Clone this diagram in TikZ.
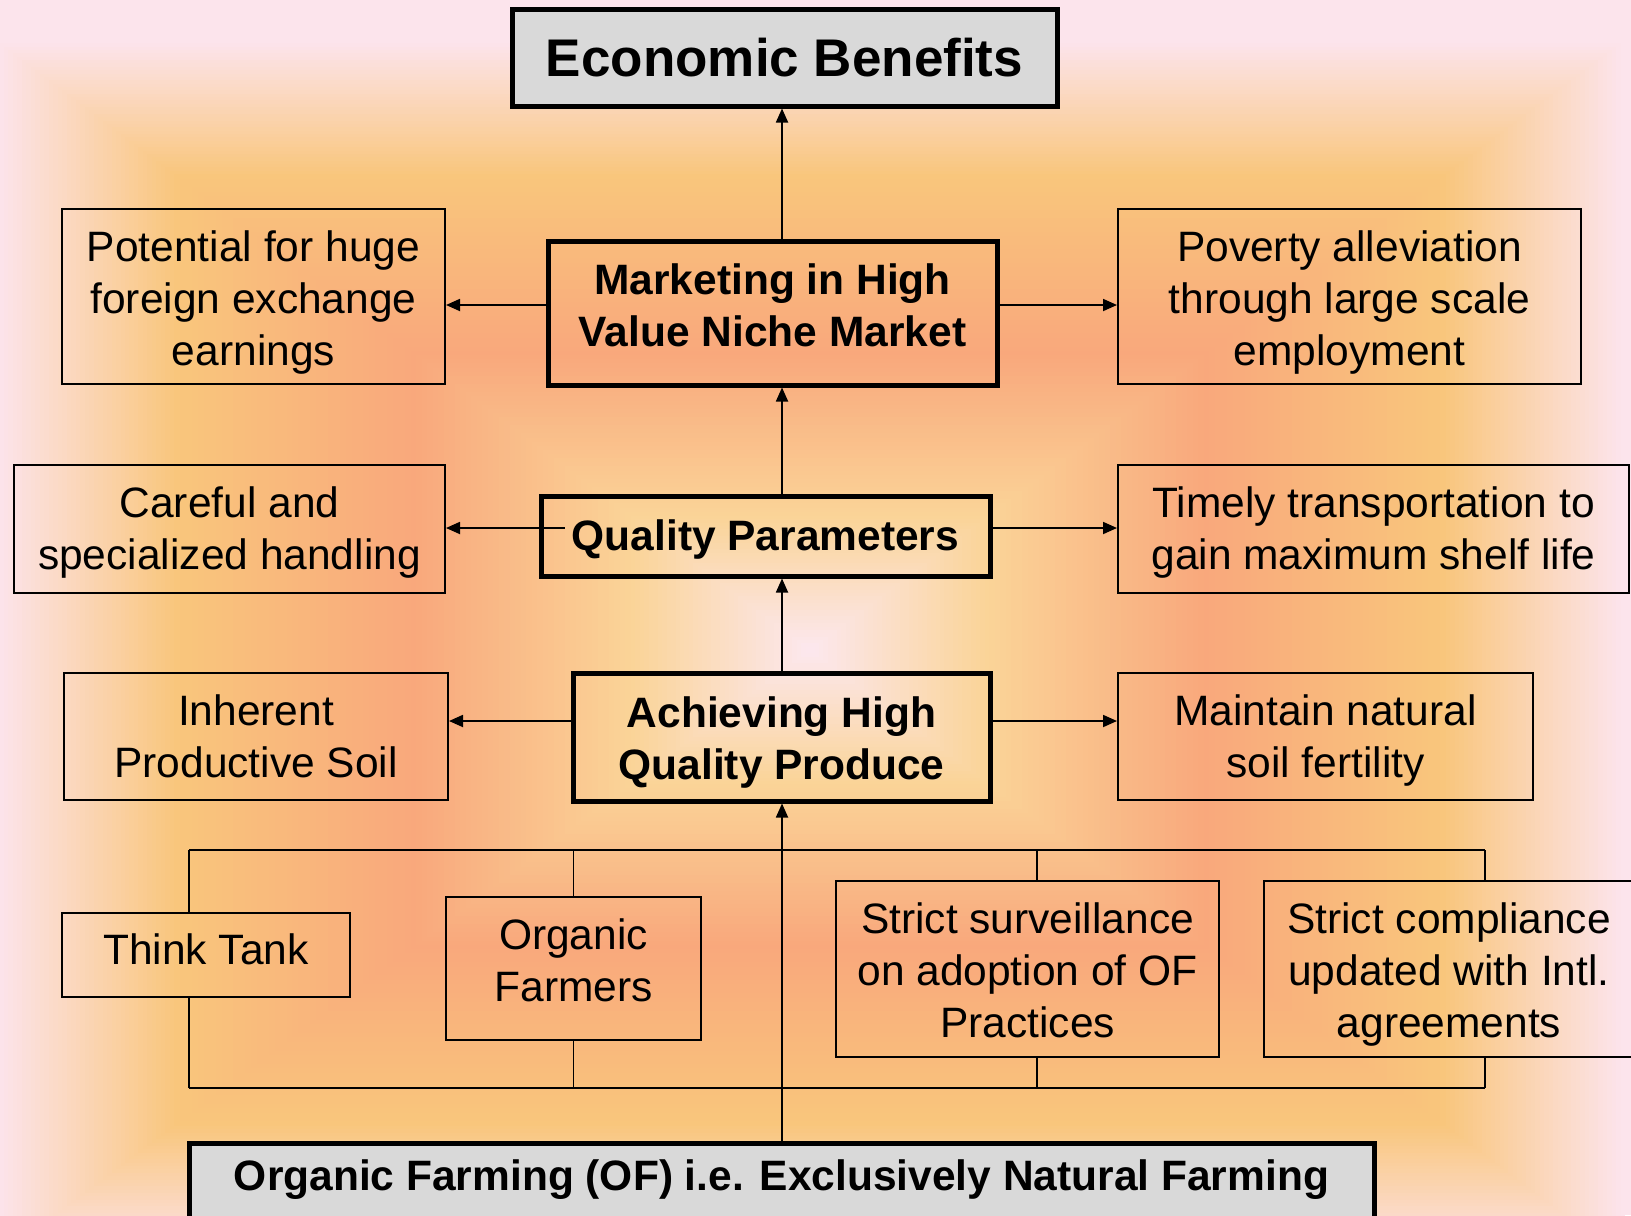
\documentclass[tikz,border=0pt]{standalone}
\usepackage{fontspec}
\setmainfont{Liberation Sans}
\usetikzlibrary{arrows.meta,calc}
\definecolor{bgE}{HTML}{FCE4EC}
\definecolor{bgO}{HTML}{F9C67C}
\definecolor{bgS}{HTML}{F9A87C}
\definecolor{bgL}{HTML}{FAD498}
\definecolor{bgC}{HTML}{FCE8F0}
\definecolor{boxgray}{HTML}{D9D9D9}
\newcommand\boxtxt[2]{\raisebox{#1}[\height][\depth]{\begin{tabular}{@{}c@{}}#2\end{tabular}}}
\begin{document}
\begin{tikzpicture}[x=0.5pt,y=-0.5pt,
  txt/.style={font=\fontsize{21.25}{26}\selectfont, align=center, inner sep=0pt},
  tbox/.style={txt, draw=black, line width=1pt},
  hbox/.style={txt, draw=black, line width=2.5pt, font=\fontsize{21.25}{26}\selectfont\bfseries},
  gbox/.style={hbox, fill=boxgray},
  arr/.style={line width=0.9pt, -{Triangle[length=7pt,width=6pt]}},
  ln/.style={line width=0.9pt}]
\useasboundingbox (0,0) rectangle (1631,1215);
\clip (0,0) rectangle (1631,1215);
% background rectangular gradient
\fill[bgE] (0,0) rectangle (1631,1215);
\foreach \ca/\cb/\ra/\rb in {bgE/bgO/1/0.78, bgO/bgS/0.78/0.49, bgS/bgL/0.49/0.22, bgL/bgC/0.22/0} {
  \foreach \i in {0,...,39} {
    \pgfmathsetmacro\rr{\ra+(\rb-\ra)*\i/40}
    \pgfmathtruncatemacro\pp{100*\i/40}
    \fill[\cb!\pp!\ca] ({810-815*\rr},{650-610*\rr}) rectangle ({810+815*\rr},{650+610*\rr});
  }
}
% nodes
\node[gbox, font=\fontsize{26.5}{32}\selectfont\bfseries, minimum width=272.5pt, minimum height=48.5pt] (eco) at (784.5,57.5) {Economic Benefits};
\node[hbox, minimum width=224.5pt, minimum height=72pt] (mkt) at (772.5,313) {\boxtxt{1.3pt}{Marketing in High\\Value Niche Market}};
\node[tbox, minimum width=191.5pt, minimum height=87.5pt] (pot) at (253.5,296.5) {\boxtxt{-3.3pt}{Potential for huge\\foreign exchange\\earnings}};
\node[tbox, minimum width=231.5pt, minimum height=87.5pt] (pov) at (1349.5,296.5) {\boxtxt{-3.3pt}{Poverty alleviation\\through large scale\\employment}};
\node[hbox, minimum width=224.5pt, minimum height=40pt] (qp) at (765.5,536) {\boxtxt{-2.1pt}{Quality Parameters}};
\node[tbox, minimum width=215.5pt, minimum height=64pt] (car) at (229.5,529) {\boxtxt{-2pt}{Careful and\\specialized handling}};
\node[tbox, minimum width=255.5pt, minimum height=64pt] (tim) at (1373.5,529) {\boxtxt{-2pt}{Timely transportation to\\gain maximum shelf life}};
\node[hbox, minimum width=208.5pt, minimum height=64pt] (ach) at (781.5,737) {\boxtxt{-2.8pt}{Achieving High\\Quality Produce}};
\node[tbox, minimum width=192pt, minimum height=63.5pt] (inh) at (256,736.5) {\boxtxt{-2.3pt}{Inherent\\Productive Soil}};
\node[tbox, minimum width=207.5pt, minimum height=63.5pt] (mai) at (1325.5,736.5) {\boxtxt{-2.3pt}{Maintain natural\\soil fertility}};
\node[tbox, minimum width=144pt, minimum height=42pt] (tt) at (206,955) {\boxtxt{0.4pt}{Think Tank}};
\node[tbox, minimum width=127.5pt, minimum height=71.5pt] (ofm) at (573.5,968.5) {\boxtxt{1.9pt}{Organic\\Farmers}};
\node[tbox, minimum width=191.5pt, minimum height=88pt] (ss) at (1027.5,969) {\boxtxt{-3pt}{Strict surveillance\\on adoption of OF\\Practices}};
\node[tbox, minimum width=185pt, minimum height=88pt] (sc) at (1449,969) {\boxtxt{-3pt}{Strict compliance\\updated with Intl.\\agreements}};
\node[gbox, anchor=north, minimum width=592.5pt, text height=23.5pt, text depth=31pt] (of) at (781.5,1141) {Organic Farming (OF) i.e. Exclusively Natural Farming};
% helper coordinates
\coordinate (ax) at (782,0);
\coordinate (yA) at (0,305);
\coordinate (yB) at (0,528);
\coordinate (yC) at (0,721);
\coordinate (btl) at (189,850);
\coordinate (btr) at (1485,850);
\coordinate (bbl) at (189,1088);
\coordinate (bbr) at (1485,1088);
\coordinate (ssx) at (1037,0);
% central arrows
\draw[arr] (of.north -| ax) -- (ach.south -| ax);
\draw[arr] (ach.north -| ax) -- (qp.south -| ax);
\draw[arr] (qp.north -| ax) -- (mkt.south -| ax);
\draw[arr] (mkt.north -| ax) -- (eco.south -| ax);
% side arrows
\draw[arr] (mkt.west |- yA) -- (pot.east |- yA);
\draw[arr] (mkt.east |- yA) -- (pov.west |- yA);
\draw[arr] ($(qp.west |- yB)+(26,0)$) -- (car.east |- yB);
\draw[arr] (qp.east |- yB) -- (tim.west |- yB);
\draw[arr] (ach.west |- yC) -- (inh.east |- yC);
\draw[arr] (ach.east |- yC) -- (mai.west |- yC);
% bracket
\draw[ln] (btl) -- (btr);
\draw[ln] (bbl) -- (bbr);
\draw[ln] (btl) -- (btl |- tt.north);
\draw[ln] (bbl) -- (bbl |- tt.south);
\draw[ln] (ofm.north) -- (ofm.north |- btl);
\draw[ln] (ofm.south) -- (ofm.south |- bbl);
\draw[ln] (ss.north -| ssx) -- (btl -| ssx);
\draw[ln] (ss.south -| ssx) -- (bbl -| ssx);
\draw[ln] (btr) -- (btr |- sc.north);
\draw[ln] (bbr) -- (bbr |- sc.south);
\end{tikzpicture}
\end{document}
